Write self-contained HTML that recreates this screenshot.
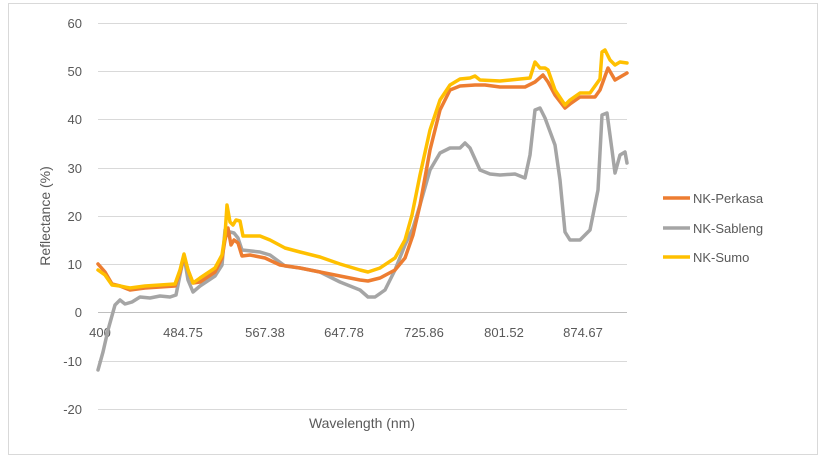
<!DOCTYPE html>
<html><head><meta charset="utf-8"><style>
html,body{margin:0;padding:0;background:#fff;}
svg{display:block;font-family:"Liberation Sans",sans-serif;}
</style></head><body>
<svg width="826" height="460" viewBox="0 0 826 460">
<rect x="8.5" y="3.5" width="809" height="451" fill="#fff" stroke="#d9d9d9"/>
<g stroke="#d9d9d9" stroke-width="1">
<line x1="98" x2="627" y1="23.5" y2="23.5"/>
<line x1="98" x2="627" y1="71.5" y2="71.5"/>
<line x1="98" x2="627" y1="119.5" y2="119.5"/>
<line x1="98" x2="627" y1="168.5" y2="168.5"/>
<line x1="98" x2="627" y1="216.5" y2="216.5"/>
<line x1="98" x2="627" y1="264.5" y2="264.5"/>
<line x1="98" x2="627" y1="361.5" y2="361.5"/>
<line x1="98" x2="627" y1="409.5" y2="409.5"/>
</g>
<line x1="98" x2="627" y1="312.5" y2="312.5" stroke="#bfbfbf"/>
<g font-size="13" fill="#595959" text-anchor="end">
<text x="82" y="28">60</text><text x="82" y="76">50</text><text x="82" y="124">40</text>
<text x="82" y="173">30</text><text x="82" y="221">20</text><text x="82" y="269">10</text>
<text x="82" y="317">0</text><text x="82" y="366">-10</text><text x="82" y="414">-20</text>
</g>
<g font-size="13" fill="#595959" text-anchor="middle">
<text x="100" y="337">400</text><text x="183" y="337">484.75</text><text x="265" y="337">567.38</text>
<text x="344" y="337">647.78</text><text x="424" y="337">725.86</text><text x="504" y="337">801.52</text>
<text x="583" y="337">874.67</text>
</g>
<text x="362" y="428" font-size="14" fill="#595959" text-anchor="middle">Wavelength (nm)</text>
<text transform="translate(50,216) rotate(-90)" font-size="14" fill="#595959" text-anchor="middle">Reflectance (%)</text>
<g fill="none" stroke-width="3.5" stroke-linejoin="round" stroke-linecap="round">
<polyline stroke="#a5a5a5" points="98,370 103,352 108,330 115,305 120,300 125,304 132,302 140,297 150,298 160,296 170,297 176,295 180,275 184,256 188,280 193,292 200,286 215,276 222,265 225,230 228,235 230,232 234,233 238,238 242,250 260,252 270,255 285,266 300,268 320,272 340,282 360,290 368,297 375,297 385,290 395,270 405,245 413,228 420,205 430,170 440,153 450,148 460,148 465,143 470,148 480,170 490,174 500,175 515,174 525,178 530,155 535,110 540,108 545,118 555,145 560,180 565,232 570,240 580,240 590,230 598,190 602,115 607,113 612,150 615,173 620,155 625,152 627,163"/>
<polyline stroke="#ed7d31" points="98,264 105,272 112,284 120,286 130,290 145,288 175,286 180,272 184,256 188,270 193,283 200,282 215,272 222,258 225,240 228,228 231,245 234,240 238,243 242,256 250,255 265,258 280,265 300,268 320,272 340,276 360,280 368,281 380,278 395,270 405,258 413,235 420,205 430,150 440,110 450,90 460,86 475,85 485,85 500,87 525,87 535,82 543,75 548,82 555,95 565,108 570,104 580,97 595,97 600,90 608,68 615,80 627,73"/>
<polyline stroke="#ffc000" points="98,270 105,275 112,285 120,286 130,288 145,286 160,285 175,284 180,270 184,254 188,270 193,283 200,278 215,268 222,255 225,235 227,205 230,222 233,225 236,220 240,221 243,236 250,236 260,236 270,240 285,248 300,252 320,257 340,264 360,270 368,272 380,268 395,258 405,240 412,215 420,175 430,130 440,100 450,85 460,79 470,78 475,76 480,80 500,81 520,79 530,78 535,62 540,68 545,68 548,70 555,90 565,105 570,100 580,93 590,93 600,79 602,52 605,50 610,60 615,65 620,62 627,63"/>
</g>
<g stroke-width="3.5">
<line x1="663" x2="690" y1="198" y2="198" stroke="#ed7d31"/>
<line x1="663" x2="690" y1="228" y2="228" stroke="#a5a5a5"/>
<line x1="663" x2="690" y1="257" y2="257" stroke="#ffc000"/>
</g>
<g font-size="13" fill="#595959">
<text x="693" y="203">NK-Perkasa</text>
<text x="693" y="233">NK-Sableng</text>
<text x="693" y="262">NK-Sumo</text>
</g>
</svg>
</body></html>
